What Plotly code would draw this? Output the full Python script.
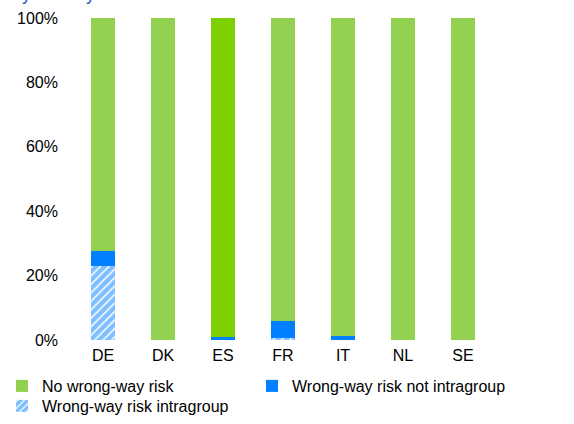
import plotly.graph_objects as go

countries = ["DE", "DK", "ES", "FR", "IT", "NL", "SE"]
intragroup = [23.0, 0.0, 0.0, 0.6, 0.0, 0.0, 0.0]
not_intragroup = [4.5, 0.0, 0.8, 5.4, 1.2, 0.0, 0.0]
no_wwr = [72.5, 100.0, 99.2, 94.0, 98.8, 100.0, 100.0]
tick_vals = [0, 20, 40, 60, 80, 100]
tick_text = ["0%", "20%", "40%", "60%", "80%", "100%"]

green = "#92D050"
green_es = "#7FD000"
blue = "#0080FF"
green_colors = [green_es if c == "ES" else green for c in countries]

W, H = 574, 424
ml, mr, mt, mb = 73, 81, 18, 84
pw = W - ml - mr
ph = H - mt - mb


def px_x(x):
    return (x - ml) / pw


def px_y(y):
    return (mt + ph - y) / ph


fig = go.Figure()
fig.add_trace(go.Bar(
    x=countries, y=intragroup, name="Wrong-way risk intragroup",
    marker=dict(color="white", line=dict(width=0),
                pattern=dict(shape="/", fgcolor=blue, bgcolor="white", size=6, solidity=0.75)),
    legend="legend3",
))
fig.add_trace(go.Bar(
    x=countries, y=not_intragroup, name="Wrong-way risk not intragroup",
    marker=dict(color=blue, line=dict(width=0)), legend="legend2",
))
fig.add_trace(go.Bar(
    x=countries, y=no_wwr, name="No wrong-way risk",
    marker=dict(color=green_colors, line=dict(width=0)), legend="legend",
))

leg_common = dict(xanchor="left", yanchor="middle", font=dict(size=16),
                  xref="container", yref="container",
                  bgcolor="rgba(0,0,0,0)", itemwidth=30, borderwidth=0)

fig.update_layout(
    width=W, height=H,
    margin=dict(l=ml, r=mr, t=mt, b=mb, pad=0, autoexpand=False),
    barmode="stack", bargap=0.6,
    plot_bgcolor="white", paper_bgcolor="white",
    font=dict(family="Arial, Liberation Sans, sans-serif", size=16, color="#000000"),
    xaxis=dict(showgrid=False, showline=False, ticks="", tickfont=dict(size=16),
               ticklabelstandoff=4, automargin=False),
    yaxis=dict(range=[0, 100], tickvals=tick_vals, ticktext=tick_text,
               showgrid=False, showline=False, zeroline=False, ticks="",
               tickfont=dict(size=16), ticklabelstandoff=14, automargin=False),
    showlegend=True,
    legend=dict(x=2 / W, y=1 - 386 / H, **leg_common),
    legend2=dict(x=252 / W, y=1 - 386 / H, **leg_common),
    legend3=dict(x=2 / W, y=1 - 406 / H, **leg_common),
    annotations=[dict(text="by country", xref="paper", yref="paper",
                      x=px_x(97), xanchor="right",
                      y=px_y(6), yanchor="bottom",
                      showarrow=False, font=dict(size=18, color="#1F4FC8"))],
)

fig.write_html("out.html", config={"displayModeBar": False},
               post_script="document.body.style.margin='0';document.body.style.overflow='hidden';")
